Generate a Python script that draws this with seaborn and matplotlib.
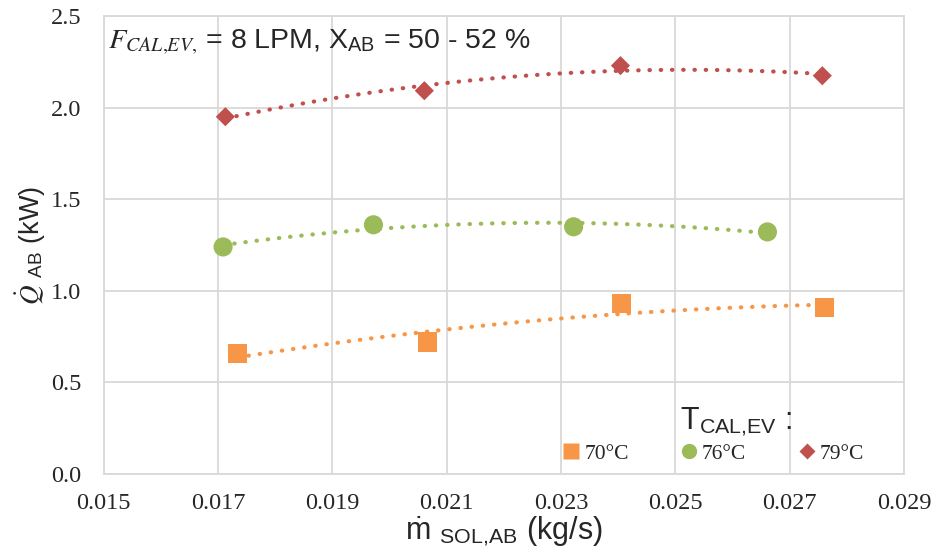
import numpy as np
import pandas as pd
import matplotlib
matplotlib.use("Agg")
import matplotlib.pyplot as plt
from matplotlib.lines import Line2D
from matplotlib.ticker import FormatStrFormatter
import seaborn as sns

# Absorber heat load vs. solution mass flow, for three evaporator temperatures
temps = ["70°C", "76°C", "79°C"]
flow_70 = [0.01734, 0.02066, 0.02406, 0.02761]
heat_70 = [0.656, 0.721, 0.929, 0.907]
flow_76 = [0.01709, 0.01972, 0.02322, 0.02661]
heat_76 = [1.240, 1.361, 1.350, 1.322]
flow_79 = [0.01713, 0.02061, 0.02404, 0.02757]
heat_79 = [1.951, 2.093, 2.230, 2.175]
x_ticks = [0.015, 0.017, 0.019, 0.021, 0.023, 0.025, 0.027, 0.029]
y_ticks = [0.0, 0.5, 1.0, 1.5, 2.0, 2.5]

df = pd.DataFrame({
    "flow": flow_70 + flow_76 + flow_79,
    "heat": heat_70 + heat_76 + heat_79,
    "T": [temps[0]] * len(flow_70) + [temps[1]] * len(flow_76) + [temps[2]] * len(flow_79),
})

colors = {"70°C": "#F79646", "76°C": "#9BBB59", "79°C": "#C0504D"}
markers = {"70°C": "s", "76°C": "o", "79°C": "D"}
sizes = {"70°C": 190, "76°C": 190, "79°C": 95}

sns.set_style("white")
plt.rcParams["font.family"] = ["Liberation Sans", "DejaVu Sans"]
plt.rcParams["mathtext.fontset"] = "stix"

fig = plt.figure(figsize=(9.33, 5.58), dpi=100)
ax = fig.add_axes([0.111, 0.1505, 0.858, 0.8205])

grid_c = "#D9D9D9"
# second-order polynomial trend lines, dotted
for t in temps:
    sub = df[df["T"] == t]
    sns.regplot(data=sub, x="flow", y="heat", order=2, ci=None, scatter=False,
                truncate=True, color=colors[t], ax=ax,
                line_kws=dict(lw=3, linestyle=(0, (0.1, 2.6)),
                              dash_capstyle="round", zorder=2))

for t in temps:
    sub = df[df["T"] == t]
    sns.scatterplot(data=sub, x="flow", y="heat", color=colors[t], marker=markers[t],
                    s=sizes[t], edgecolor="none", ax=ax, zorder=3, legend=False)

ax.set_xlim(0.015, 0.029)
ax.set_ylim(0.0, 2.5)
ax.set_xticks(x_ticks)
ax.set_yticks(y_ticks)
ax.xaxis.set_major_formatter(FormatStrFormatter("%.3f"))
ax.yaxis.set_major_formatter(FormatStrFormatter("%.1f"))
ax.grid(True, color=grid_c, lw=1.3)
ax.set_axisbelow(True)
for sp in ax.spines.values():
    sp.set_color(grid_c)
    sp.set_linewidth(1.3)
ax.tick_params(axis="both", length=0, labelsize=17.5)
ax.tick_params(axis="y", pad=16)
ax.tick_params(axis="x", pad=14)
for lab in ax.get_xticklabels() + ax.get_yticklabels():
    lab.set_fontfamily("Liberation Serif")

ax.set_xlabel(r"ṁ $_{\mathregular{SOL{,}AB}}$ (kg/s)", fontsize=22, labelpad=0)
ax.set_ylabel(r"$\dot{Q}$ $_{\mathregular{AB}}$ (kW)", fontsize=19.5, labelpad=2)

ax.text(0.006, 0.975,
        r"$F_{CAL{,}EV{,}}$ = 8 LPM, X$_{\mathregular{AB}}$ = 50 - 52 %",
        transform=ax.transAxes, ha="left", va="top", fontsize=20.5)

handles = [Line2D([], [], linestyle="none", marker=markers[t], color=colors[t],
                  markeredgecolor="none",
                  markersize=11 if markers[t] != "D" else 8)
           for t in temps]
leg = ax.legend(handles, temps, ncol=3, frameon=False, loc="lower right",
                bbox_to_anchor=(0.974, -0.02),
                handletextpad=0.1, columnspacing=2.3, handlelength=1.0,
                prop={"family": "Liberation Serif", "size": 15.5})
# legend heading
ax.text(0.791, 0.113, r"T$_{\mathregular{CAL{,}EV}}$ :", transform=ax.transAxes,
        ha="center", va="center", fontsize=22)

fig.savefig("out.png", dpi=100)
